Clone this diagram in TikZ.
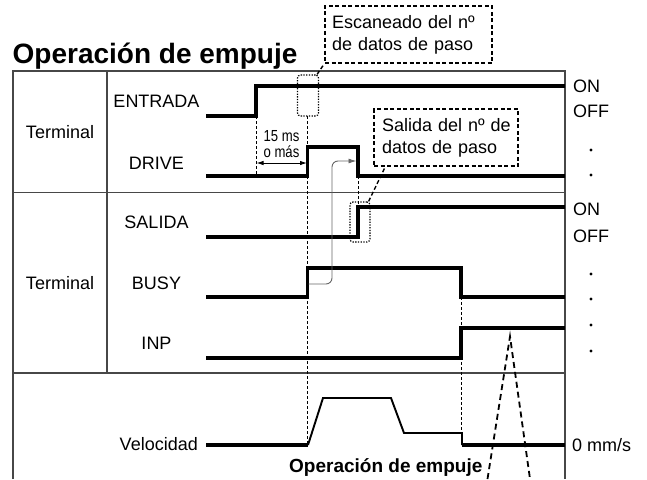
\documentclass[tikz,border=0pt]{standalone}
\usepackage{fontspec}
\setmainfont{Liberation Sans}
\usetikzlibrary{arrows.meta}
\begin{document}
\begin{tikzpicture}[x=1pt,y=-1pt,
  every node/.style={inner sep=0pt, font=\fontsize{18}{22}\selectfont},
  frame/.style={draw=black!72, line width=1.1pt},
  sig/.style={line width=3.2pt, line join=miter},
  vel/.style={line width=1.9pt, line join=miter},
  guide/.style={line width=0.9pt, dash pattern=on 3pt off 2pt},
  dotbox/.style={draw, line width=1.2pt, dash pattern=on 1.3pt off 1.4pt, rounded corners=3pt},
  callout/.style={draw, line width=1.4pt, dash pattern=on 4pt off 2.5pt, align=left, inner xsep=7pt},
  conn/.style={line width=1.4pt, dash pattern=on 4pt off 2.5pt},
  bigdash/.style={line width=1.8pt, dash pattern=on 6pt off 4pt},
  garrow/.style={draw=black!60, line width=0.9pt, rounded corners=6pt, -{Latex[length=8pt,width=5pt]}},
  sideLabel/.style={anchor=west},
  dotmark/.style={circle, fill, minimum size=3.4pt, inner sep=0pt},
  msText/.style={anchor=base, font=\fontsize{16}{18}\selectfont},
]
\useasboundingbox (0,0) rectangle (647,479);

% title
\node[anchor=base west, font=\bfseries\fontsize{28}{30}\selectfont] (title) at (12.5,63) {Operación de empuje};

% frame
\draw[frame] (13,479) -- (13,71) -- (565,71) -- (565,479);
\draw[frame] (13,192.5) -- (565,192.5);
\draw[frame] (13,373) -- (565,373);
\draw[frame] (107,71) -- (107,373);

% left labels
\node (t1) at (60,132.5) {Terminal};
\node (t2) at (60,283) {Terminal};
\node (lentrada) at (156.5,101.5) {ENTRADA};
\node (ldrive) at (156.5,163) {DRIVE};
\node (lsalida) at (156.5,222) {SALIDA};
\node (lbusy) at (156.5,283) {BUSY};
\node (linp) at (156.5,343.5) {INP};
\node[anchor=east] (lvel) at (198,444.5) {Velocidad};

% right labels
\node[sideLabel] (on1) at (573,86.5) {ON};
\node[sideLabel] (off1) at (573,111.5) {OFF};
\node[sideLabel] (on2) at (573,209.5) {ON};
\node[sideLabel] (off2) at (573,236) {OFF};
\node[sideLabel] (zero) at (572,445) {0 mm/s};
\foreach \yy [count=\i] in {150,175,274,299,325,351}
  \node[dotmark] (d\i) at (591,\yy) {};

% guides
\draw[guide] (256,116) -- (256,176);
\draw[guide] (307.5,116) -- (307.5,445);
\draw[guide] (358,176) -- (358,207);
\draw[guide] (461,297) -- (461,445);

% signals
\draw[sig] (206,116) -- (256,116) -- (256,86) -- (565,86);
\draw[sig] (206,176) -- (307.5,176) -- (307.5,147) -- (358,147) -- (358,176) -- (565,176);
\draw[sig] (206,237) -- (358,237) -- (358,207) -- (565,207);
\draw[sig] (206,297) -- (307.5,297) -- (307.5,268) -- (461,268) -- (461,297) -- (565,297);
\draw[sig] (206,358) -- (461,358) -- (461,328) -- (565,328);
\draw[sig] (206,445) -- (308,445);
\draw[vel] (308,445) -- (323,398) -- (391,398) -- (404,433) -- (462,433) -- (462,445);
\draw[sig] (462,445) -- (565,445);

% 15 ms
\draw[line width=0.9pt, {Latex[length=7pt,width=4.5pt]}-{Latex[length=7pt,width=4.5pt]}] (256.5,163) -- (307,163);
\node[msText] (ms1) at (281.5,141.5) {\scalebox{0.82}[1]{15 ms}};
\node[msText] (ms2) at (281.5,157) {\scalebox{0.82}[1]{o más}};

% dotted boxes
\node[dotbox, minimum width=21pt, minimum height=41pt] (dot1) at (308,95.5) {};
\node[dotbox, minimum width=20pt, minimum height=40pt] (dot2) at (360,222) {};

% callouts
\node[callout, text width=153pt, minimum height=57pt] (call1) at (408.5,34.5) {\mbox{Escaneado del nº}\\\mbox{de datos de paso}};
\node[callout, text width=128pt, minimum height=57pt, inner xsep=8pt] (call2) at (446,137.5) {\mbox{Salida del nº de}\\\mbox{datos de paso}};
\draw[conn] ([xshift=-2pt]dot1.north east) -- (call1.south west);
\draw[conn] ([xshift=-2pt]dot2.north east) -- ([xshift=12pt]call2.south west);

% grey arrow BUSY -> DRIVE
\coordinate (gstart) at (308.5,284);
\coordinate (gend) at (356.5,161);
\draw[garrow] (gstart) -- (332,284) -- (332,161) -- (gend);

% dashed triangle
\coordinate (tl) at (487.5,479);
\coordinate (tp) at (510,336.5);
\coordinate (tr) at (530,479);
\draw[bigdash] (tl) -- (tp) -- (tr);

% bottom label
\node[anchor=base west, font=\bfseries\fontsize{19}{22}\selectfont] (push) at (289,472) {Operación de empuje};
\end{tikzpicture}
\end{document}
